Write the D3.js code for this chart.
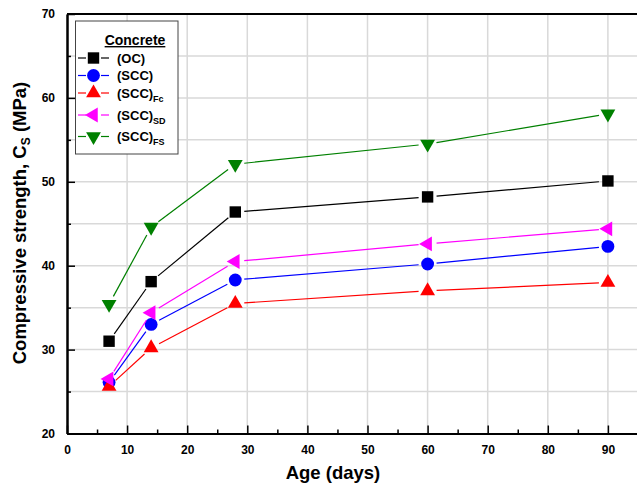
<!DOCTYPE html>
<html>
<head>
<meta charset="utf-8">
<script src="https://cdn.jsdelivr.net/npm/d3@7"></script>
<style>
  html, body { margin: 0; padding: 0; background: #fff; overflow: hidden; }
  svg { display: block; font-family: Arial, "Liberation Sans", sans-serif; }
</style>
</head>
<body>
<svg id="chart" width="637" height="488"></svg>
<script>
// data
const ages = [7, 14, 28, 60, 90];
const ocValues = [31.0, 38.1, 46.4, 48.2, 50.1];
const sccValues = [26.1, 33.0, 38.3, 40.2, 42.3];
const fcValues = [25.6, 30.2, 35.5, 37.0, 38.0];
const sdValues = [26.5, 34.4, 40.5, 42.6, 44.4];
const fsValues = [35.4, 44.6, 52.1, 54.5, 58.1];

const seriesNames = ['(OC)', '(SCC)', '(SCC)', '(SCC)', '(SCC)'];
const seriesSubs = ['', '', 'Fc', 'SD', 'FS'];
const xTicks = [0, 10, 20, 30, 40, 50, 60, 70, 80, 90];
const yTicks = [20, 30, 40, 50, 60, 70];

const series = [
    { values: ocValues, color: '#000000', symbol: 'square' },
    { values: sccValues, color: '#0000ff', symbol: 'circle' },
    { values: fcValues, color: '#ff0000', symbol: 'up' },
    { values: sdValues, color: '#ff00ff', symbol: 'left' },
    { values: fsValues, color: '#008000', symbol: 'down' }
].map((s, i) => ({ ...s, name: seriesNames[i], sub: seriesSubs[i] }));

const svg = d3.select('#chart');
const plotLeft = 67, plotTop = 14, plotRight = 668, plotBottom = 433.5;

const x = d3.scaleLinear().domain([0, 100]).range([plotLeft, plotRight]);
const y = d3.scaleLinear().domain([20, 70]).range([plotBottom, plotTop]);

// grid
const grid = svg.append('g');
grid.selectAll('.vg')
    .data(d3.range(10, 100, 10))
    .enter().append('line')
    .attr('x1', d => x(d)).attr('x2', d => x(d))
    .attr('y1', plotTop).attr('y2', plotBottom)
    .attr('stroke', '#d9d9d9').attr('stroke-width', 1.5);
grid.selectAll('.hg')
    .data(d3.range(25, 70, 5))
    .enter().append('line')
    .attr('x1', plotLeft).attr('x2', plotRight)
    .attr('y1', d => y(d)).attr('y2', d => y(d))
    .attr('stroke', '#d9d9d9').attr('stroke-width', 1.5);

// axes (ticks inward)
const xAxis = d3.axisBottom(x).tickValues(xTicks).tickSize(-8).tickPadding(12).tickSizeOuter(0);
const xMinor = d3.axisBottom(x).tickValues(d3.range(5, 100, 10)).tickSize(-4).tickFormat('').tickSizeOuter(0);
const yAxis = d3.axisLeft(y).tickValues(yTicks).tickSize(-8).tickPadding(12).tickSizeOuter(0);
const yMinor = d3.axisLeft(y).tickValues(d3.range(25, 70, 10)).tickSize(-4).tickFormat('').tickSizeOuter(0);

function styleAxis(g) {
    g.select('.domain').attr('stroke', '#000').attr('stroke-width', 2);
    g.selectAll('.tick line').attr('stroke', '#000').attr('stroke-width', 1.5);
    g.selectAll('.tick text').attr('fill', '#000')
        .style('font-size', '12px').style('font-weight', 'bold');
}
svg.append('g').attr('transform', `translate(0,${plotBottom})`).call(xAxis).call(styleAxis);
svg.append('g').attr('transform', `translate(0,${plotBottom})`).call(xMinor).call(styleAxis);
svg.append('g').attr('transform', `translate(${plotLeft},0)`).call(yAxis).call(styleAxis);
svg.append('g').attr('transform', `translate(${plotLeft},0)`).call(yMinor).call(styleAxis);

// top frame
svg.append('line')
    .attr('x1', plotLeft).attr('x2', plotRight).attr('y1', plotTop).attr('y2', plotTop)
    .attr('stroke', '#000').attr('stroke-width', 2);

// axis titles
svg.append('text')
    .attr('x', 333).attr('y', 479)
    .attr('text-anchor', 'middle')
    .style('font-size', '18.5px').style('font-weight', 'bold')
    .text('Age (days)');

const yTitle = svg.append('text')
    .attr('transform', 'translate(26,223) rotate(-90)')
    .attr('text-anchor', 'middle')
    .style('font-size', '18.5px').style('font-weight', 'bold');
yTitle.append('tspan').text('Compressive strength, C');
yTitle.append('tspan').attr('dy', 4).style('font-size', '12px').text('S');
yTitle.append('tspan').attr('dy', -4).text(' (MPa)');

// markers
const symbolTypes = {
    square: d3.symbolSquare,
    circle: d3.symbolCircle,
    up: d3.symbolTriangle,
    left: d3.symbolTriangle,
    down: d3.symbolTriangle
};
const symbolSize = { square: 130, circle: 130, up: 95, left: 95, down: 95 };
const symbolRotate = { square: 0, circle: 0, up: 0, left: -90, down: 180 };
const symbolGap = 9;

function drawSymbol(g, s, cx, cy) {
    g.append('path')
        .attr('d', d3.symbol().type(symbolTypes[s.symbol]).size(symbolSize[s.symbol])())
        .attr('transform', `translate(${cx},${cy}) rotate(${symbolRotate[s.symbol]})`)
        .attr('fill', s.color);
}

const plot = svg.append('g');
series.forEach(s => {
    const pts = s.values.map((v, i) => [x(ages[i]), y(v)]);
    // line segments stopping short of each symbol
    for (let i = 0; i < pts.length - 1; i++) {
        const [x1, y1] = pts[i];
        const [x2, y2] = pts[i + 1];
        const len = Math.hypot(x2 - x1, y2 - y1);
        const ux = (x2 - x1) / len, uy = (y2 - y1) / len;
        plot.append('line')
            .attr('x1', x1 + ux * symbolGap).attr('y1', y1 + uy * symbolGap)
            .attr('x2', x2 - ux * symbolGap).attr('y2', y2 - uy * symbolGap)
            .attr('stroke', s.color).attr('stroke-width', 1.2);
    }
    pts.forEach(([px, py]) => drawSymbol(plot, s, px, py));
});

// legend
const legendRowY = [58, 75.5, 93, 115, 136.5];
const legend = svg.append('g');
legend.append('rect')
    .attr('x', 75.5).attr('y', 21).attr('width', 102.5).attr('height', 133)
    .attr('fill', '#fff').attr('stroke', '#444').attr('stroke-width', 1);
legend.append('text')
    .attr('x', 135).attr('y', 45)
    .attr('text-anchor', 'middle')
    .attr('text-decoration', 'underline')
    .style('font-size', '14px').style('font-weight', 'bold')
    .text('Concrete');

series.forEach((s, i) => {
    const ly = legendRowY[i];
    legend.append('line').attr('x1', 78).attr('x2', 86).attr('y1', ly).attr('y2', ly)
        .attr('stroke', s.color).attr('stroke-width', 1.2);
    legend.append('line').attr('x1', 101).attr('x2', 109).attr('y1', ly).attr('y2', ly)
        .attr('stroke', s.color).attr('stroke-width', 1.2);
    drawSymbol(legend, s, 93.5, ly);
    const t = legend.append('text')
        .attr('x', 117).attr('y', ly + 4.5)
        .style('font-size', '13px').style('font-weight', 'bold');
    t.append('tspan').text(s.name);
    if (s.sub) {
        t.append('tspan').attr('dy', 4).style('font-size', '9px').text(s.sub);
    }
});
</script>
</body>
</html>
